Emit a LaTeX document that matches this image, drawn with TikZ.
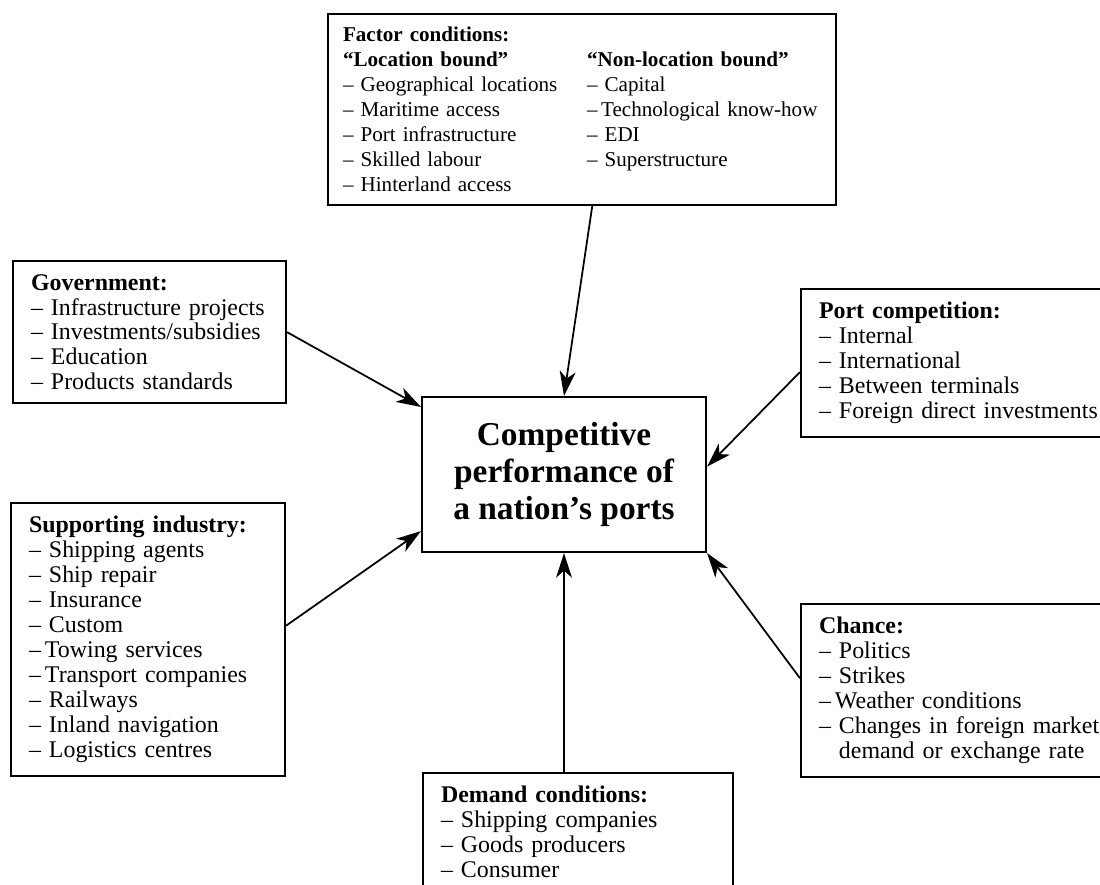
\documentclass[tikz,border=0pt]{standalone}
\usepackage{fontspec}
\setmainfont{Liberation Serif}
\usetikzlibrary{arrows.meta,calc}

\newcommand{\twocol}[2]{\makebox[48.8mm][l]{#1}#2}

\begin{document}
\begin{tikzpicture}[x=0.2mm, y=-0.2mm, line width=1pt,
    box/.style={draw, line width=1.2pt, anchor=north west, align=left,
                inner xsep=3.6mm, inner ysep=7.5pt,
                font=\fontsize{13.6}{14.2}\selectfont},
    arr/.style={-{Stealth[length=14pt,width=9pt,inset=4pt]}}]
        \useasboundingbox (0,0) rectangle (1100,884);

        \node(fac)[box, inner xsep=3mm, text width=95.6mm,
                   font=\fontsize{12}{14.2}\selectfont] at (327, 13) {
            \textbf{Factor conditions:}\\
            \twocol{\textbf{``Location bound''}}{\textbf{``Non-location bound''}}\\
            \twocol{-- Geographical locations}{-- Capital}\\
            \twocol{-- Maritime access}{--\,Technological know-how}\\
            \twocol{-- Port infrastructure}{-- EDI}\\
            \twocol{-- Skilled labour}{-- Superstructure}\\
            -- Hinterland access};

        \node(gov)[box, text width=47.4mm] at (12, 260) {
            \textbf{Government:}\\
            -- Infrastructure projects\\
            -- Investments/subsidies\\
            -- Education\\
            -- Products standards};

        \node(sup)[box, text width=47.6mm] at (10, 502) {
            \textbf{Supporting industry:}\\
            -- Shipping agents\\
            -- Ship repair\\
            -- Insurance\\
            -- Custom\\
            --\,Towing services\\
            --\,Transport companies\\
            -- Railways\\
            -- Inland navigation\\
            -- Logistics centres};

        \node(port)[box, text width=60mm] at (800, 288) {
            \textbf{Port competition:}\\
            -- Internal\\
            -- International\\
            -- Between terminals\\
            -- Foreign direct investments};

        \node(chance)[box, text width=60mm] at (800, 603) {
            \textbf{Chance:}\\
            -- Politics\\
            -- Strikes\\
            --\,Weather conditions\\
            -- Changes in foreign market\\
            \phantom{-- }demand or exchange rate};

        \node(dem)[box, text width=54.8mm] at (422, 772) {
            \textbf{Demand conditions:}\\
            -- Shipping companies\\
            -- Goods producers\\
            -- Consumer\\
            \phantom{--}};

        \node(core)[draw, line width=1.2pt, minimum width=56.8mm, minimum height=31mm,
            align=center, font=\bfseries\fontsize{19}{21}\selectfont] at (564, 474.5)
            {Competitive\\performance of\\a nation's ports};

        \draw[arr] ($(fac.south west)!0.52!(fac.south east)$) -- (core.north);
        \draw[arr] (gov.east) -- ($(core.north west)!0.07!(core.south west)$);
        \draw[arr] ($(sup.north east)!0.45!(sup.south east)$) -- ($(core.north west)!0.86!(core.south west)$);
        \draw[arr] ($(port.north west)!0.56!(port.south west)$) -- ($(core.north east)!0.45!(core.south east)$);
        \draw[arr] ($(chance.north west)!0.43!(chance.south west)$) -- (core.south east);
        \draw[arr] (core.south |- dem.north) -- (core.south);

      \end{tikzpicture}
\end{document}
